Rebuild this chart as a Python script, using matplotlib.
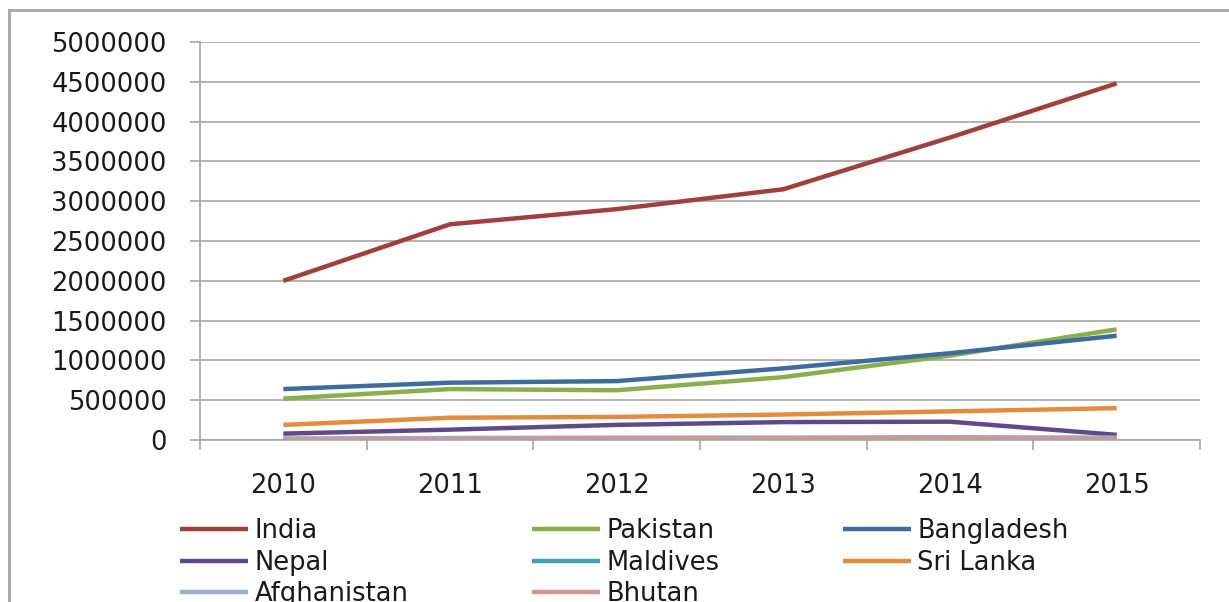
import matplotlib
matplotlib.use("Agg")
import matplotlib.pyplot as plt
from matplotlib.lines import Line2D
from matplotlib.ticker import FixedLocator, NullFormatter

years = ["2010", "2011", "2012", "2013", "2014", "2015"]
india = [2000000, 2710000, 2900000, 3150000, 3800000, 4480000]
pakistan = [520000, 640000, 625000, 790000, 1060000, 1390000]
bangladesh = [640000, 720000, 740000, 900000, 1090000, 1310000]
nepal = [80000, 130000, 190000, 225000, 230000, 65000]
maldives = [8000, 9000, 10000, 12000, 13000, 14000]
sri_lanka = [190000, 280000, 290000, 320000, 360000, 400000]
afghanistan = [20000, 25000, 30000, 30000, 35000, 30000]
bhutan = [5000, 10000, 15000, 20000, 25000, 10000]

series = [
    ("India", india, "#A0403C"),
    ("Pakistan", pakistan, "#8AAE4A"),
    ("Bangladesh", bangladesh, "#3E6C9E"),
    ("Nepal", nepal, "#5E4A8A"),
    ("Maldives", maldives, "#3FA3B8"),
    ("Sri Lanka", sri_lanka, "#E48C3C"),
    ("Afghanistan", afghanistan, "#94AFD3"),
    ("Bhutan", bhutan, "#D49592"),
]
y_ticks = [0, 500000, 1000000, 1500000, 2000000, 2500000, 3000000,
           3500000, 4000000, 4500000, 5000000]

W, H = 1229, 602
FS = 18.5
fig = plt.figure(figsize=(W / 100, H / 100), dpi=100)
fig.patch.set_facecolor("white")

ax = fig.add_axes([200 / W, 1 - 440 / H, 1000 / W, 398 / H])
x = list(range(len(years)))
handles = {}
for name, vals, col in series:
    (ln,) = ax.plot(x, vals, color=col, lw=3.2, label=name,
                    solid_capstyle="butt", solid_joinstyle="round")
    handles[name] = ln

ax.set_xlim(-0.5, len(years) - 0.5)
ax.set_ylim(0, 5000000)
ax.set_yticks(y_ticks)
ax.set_yticklabels([str(v) for v in y_ticks])
ax.yaxis.grid(True, color="#A6A6A6", lw=1.2)
ax.set_axisbelow(True)

ax.xaxis.set_major_locator(FixedLocator([i - 0.5 for i in range(len(years) + 1)]))
ax.xaxis.set_major_formatter(NullFormatter())
ax.xaxis.set_minor_locator(FixedLocator(x))
ax.set_xticklabels(years, minor=True)
ax.tick_params(axis="x", which="major", length=7, width=1.2, color="#A6A6A6", direction="out")
ax.tick_params(axis="x", which="minor", length=0, pad=24, labelsize=FS, labelcolor="#1a1a1a")
ax.tick_params(axis="y", length=7, width=1.2, color="#A6A6A6", pad=17,
               labelsize=FS, labelcolor="#1a1a1a")

for s in ["top", "right"]:
    ax.spines[s].set_visible(False)
for s in ["left", "bottom"]:
    ax.spines[s].set_color("#A6A6A6")
    ax.spines[s].set_linewidth(1.2)

order = ["India", "Nepal", "Afghanistan", "Pakistan", "Maldives", "Bhutan",
         "Bangladesh", "Sri Lanka"]
fig.legend([handles[n] for n in order], order, ncol=3, frameon=False,
           loc="upper left", bbox_to_anchor=(180 / W, 1 - 518 / H),
           borderaxespad=0, borderpad=0, fontsize=FS, handlelength=2.65,
           handletextpad=0.25, columnspacing=4.8, labelspacing=0.22,
           labelcolor="#1a1a1a")

# outer chart border (only top and left are visible in the crop)
fig.add_artist(Line2D([9 / W, 1.1], [1 - 10 / H, 1 - 10 / H],
                      transform=fig.transFigure, color="#A6A6A6", lw=2))
fig.add_artist(Line2D([9 / W, 9 / W], [-0.1, 1 - 10 / H],
                      transform=fig.transFigure, color="#A6A6A6", lw=2))

fig.savefig("out.png", dpi=100)
